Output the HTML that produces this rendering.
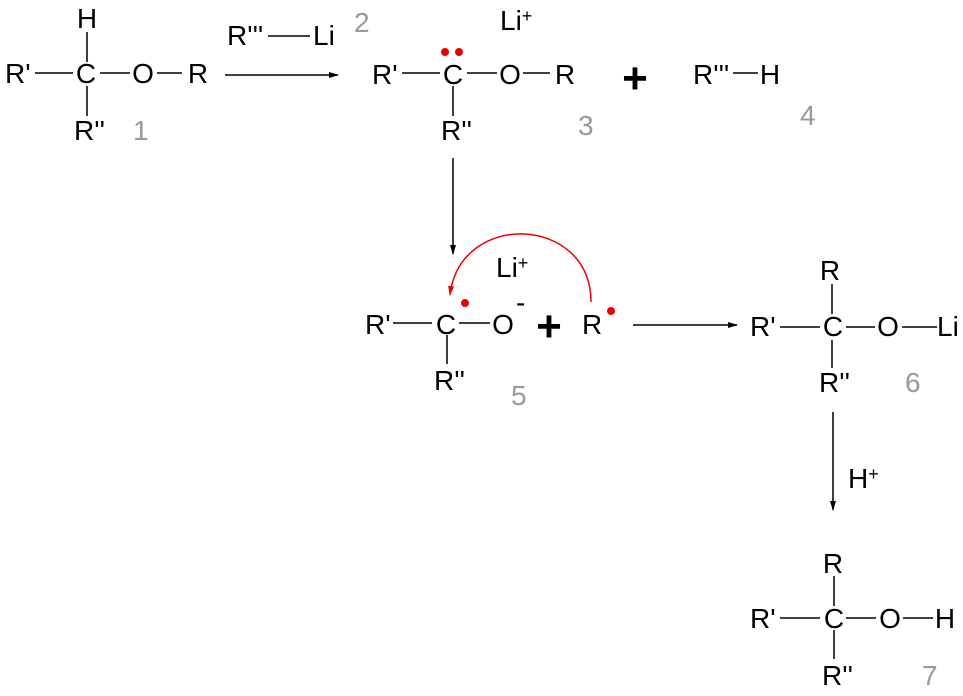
<!DOCTYPE html>
<html><head><style>
html,body{margin:0;padding:0;background:#fff;}
svg{display:block;}
text{font-family:"Liberation Sans",sans-serif;font-size:28px;fill:#000;}
.m{text-anchor:middle;}
.g{fill:#999;}
.p{font-size:44px;font-weight:bold;text-anchor:middle;}
</style></head><body>
<svg width="963" height="696" viewBox="0 0 963 696" xmlns="http://www.w3.org/2000/svg">
<defs>
<marker id="a" markerWidth="10" markerHeight="8" refX="9" refY="4" orient="auto" markerUnits="userSpaceOnUse"><path d="M0,1 L10,4 L0,7 Z" fill="#000"/></marker>
<marker id="r" markerWidth="10" markerHeight="8" refX="9" refY="4" orient="auto" markerUnits="userSpaceOnUse"><path d="M0,1 L10,4 L0,7 Z" fill="#e00"/></marker>
</defs>
<g stroke="#000" stroke-width="1.5" fill="none">
<line x1="35" y1="73" x2="73" y2="73"/><line x1="100" y1="73" x2="130" y2="73"/><line x1="157" y1="73" x2="182" y2="73"/>
<line x1="87" y1="32" x2="87" y2="62"/><line x1="87" y1="86" x2="87" y2="116"/>
<line x1="225" y1="75" x2="338" y2="75" marker-end="url(#a)"/>
<line x1="268" y1="36" x2="310" y2="36"/>
<line x1="402" y1="73" x2="440" y2="73"/><line x1="467" y1="73" x2="497" y2="73"/><line x1="523" y1="73" x2="550" y2="73"/>
<line x1="453" y1="86" x2="453" y2="116"/>
<line x1="733" y1="73" x2="758" y2="73"/>
<line x1="453" y1="158" x2="453" y2="254" marker-end="url(#a)"/>
<line x1="393" y1="323" x2="432" y2="323"/><line x1="459" y1="323" x2="490" y2="323"/>
<line x1="447" y1="335" x2="447" y2="364"/>
<line x1="633" y1="325" x2="737" y2="325" marker-end="url(#a)"/>
<line x1="780" y1="327" x2="820" y2="327"/><line x1="846" y1="327" x2="875" y2="327"/><line x1="902" y1="327" x2="937" y2="327"/>
<line x1="832" y1="284" x2="832" y2="314"/><line x1="832" y1="340" x2="832" y2="368"/>
<line x1="833" y1="412" x2="833" y2="510" marker-end="url(#a)"/>
<line x1="780" y1="618" x2="820" y2="618"/><line x1="846" y1="618" x2="876" y2="618"/><line x1="903" y1="618" x2="933" y2="618"/>
<line x1="834" y1="576" x2="834" y2="606"/><line x1="834" y1="630" x2="834" y2="659"/>
</g>
<path d="M591,302 C591,215 460,210 450,295" stroke="#e00" stroke-width="1.5" fill="none" marker-end="url(#r)"/>
<g fill="#e00"><circle cx="445" cy="52" r="4"/><circle cx="459" cy="52" r="4"/><circle cx="465" cy="303" r="4"/><circle cx="611" cy="311" r="4"/></g>
<text x="5" y="83">R'</text><text class="m" x="87" y="28">H</text><text class="m" x="86" y="83">C</text><text class="m" x="143" y="83">O</text><text class="m" x="198" y="83">R</text>
<text x="74" y="140">R''</text><text class="g" x="133" y="140">1</text>
<text x="227" y="45">R'''</text><text x="313" y="45">Li</text><text class="g" x="354" y="32">2</text>
<text x="372" y="84">R'</text><text class="m" x="453" y="84">C</text><text class="m" x="510" y="84">O</text><text class="m" x="565" y="84">R</text>
<text x="441" y="140">R''</text><text class="g" x="578" y="135">3</text>
<text x="500" y="30">Li<tspan font-size="18" dy="-8">+</tspan></text>
<text class="p" x="635" y="93">+</text>
<text x="693" y="84">R'''</text><text class="m" x="770" y="84">H</text><text class="g" x="800" y="125">4</text>
<text x="365" y="334">R'</text><text class="m" x="446" y="334">C</text><text class="m" x="503" y="334">O</text>
<text x="516" y="312" font-size="20">-</text>
<text class="p" x="549" y="341">+</text>
<text x="582" y="334">R</text>
<text x="496" y="277">Li<tspan font-size="18" dy="-8">+</tspan></text>
<text x="434" y="390">R''</text><text class="g" x="511" y="405">5</text>
<text class="m" x="830" y="280">R</text><text x="750" y="336">R'</text><text class="m" x="833" y="336">C</text><text class="m" x="888" y="336">O</text><text x="937" y="336">Li</text>
<text x="819" y="392">R''</text><text class="g" x="905" y="392">6</text>
<text x="848" y="488">H<tspan font-size="18" dy="-8">+</tspan></text>
<text class="m" x="833" y="573">R</text><text x="750" y="628">R'</text><text class="m" x="834" y="628">C</text><text class="m" x="890" y="628">O</text><text class="m" x="945" y="628">H</text>
<text x="822" y="685">R''</text><text class="g" x="922" y="685">7</text>
</svg>
</body></html>
